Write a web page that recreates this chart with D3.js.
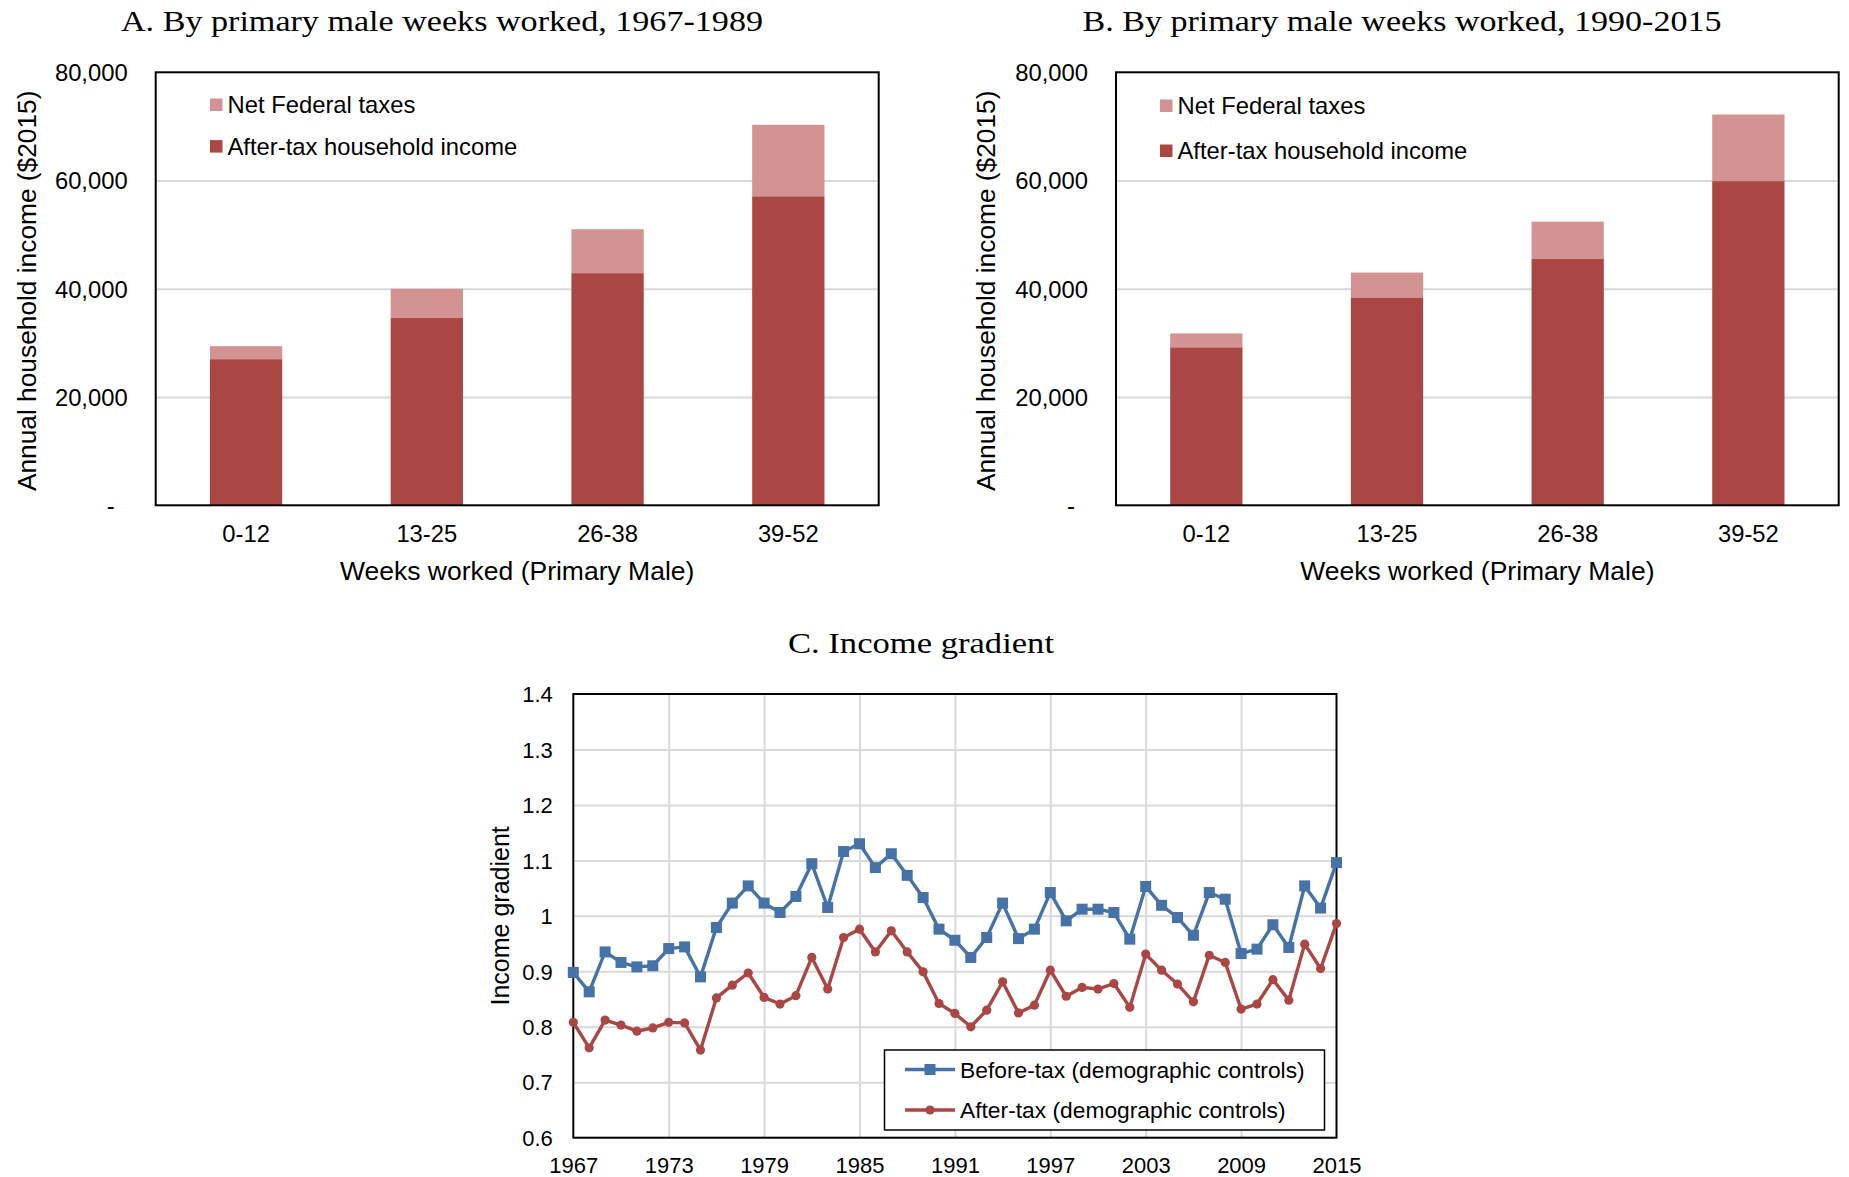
<!DOCTYPE html>
<html>
<head>
<meta charset="utf-8">
<script src="https://cdn.jsdelivr.net/npm/d3@7/dist/d3.min.js"></script>
<style>
  html, body { margin: 0; padding: 0; background: #fff; }
  svg { display: block; }
  .sans { font-family: "Liberation Sans", Arial, sans-serif; fill: #000; }
  .serif { font-family: "Liberation Serif", "Times New Roman", serif; fill: #000; }
</style>
</head>
<body>
<svg id="chart" width="1849" height="1177"></svg>
<script>
// ---------- DATA ----------
const weekCategories = ["0-12", "13-25", "26-38", "39-52"];
const afterTaxA = [27000, 34600, 42900, 57100];
const taxesA    = [2400, 5400, 8100, 13200];
const afterTaxB = [29200, 38300, 45500, 59900];
const taxesB    = [2550, 4700, 6900, 12300];
const incomeTicks = [0, 20000, 40000, 60000, 80000];
const barSeriesNames = ["Net Federal taxes", "After-tax household income"];

const years = [1967,1968,1969,1970,1971,1972,1973,1974,1975,1976,
               1977,1978,1979,1980,1981,1982,1983,1984,1985,1986,
               1987,1988,1989,1990,1991,1992,1993,1994,1995,1996,
               1997,1998,1999,2000,2001,2002,2003,2004,2005,2006,
               2007,2008,2009,2010,2011,2012,2013,2014,2015];
const beforeTaxGradient = [0.898,0.863,0.935,0.916,0.908,0.910,0.941,0.944,0.890,0.979,
                           1.023,1.054,1.023,1.006,1.035,1.094,1.015,1.116,1.130,1.087,
                           1.112,1.073,1.033,0.976,0.956,0.925,0.961,1.023,0.959,0.976,
                           1.042,0.991,1.012,1.012,1.006,0.958,1.053,1.019,0.997,0.965,
                           1.042,1.030,0.932,0.940,0.984,0.943,1.054,1.014,1.096];
const afterTaxGradient  = [0.808,0.762,0.812,0.803,0.792,0.798,0.808,0.807,0.758,0.852,
                           0.875,0.897,0.853,0.841,0.856,0.925,0.868,0.961,0.976,0.935,
                           0.973,0.935,0.899,0.842,0.824,0.800,0.830,0.881,0.825,0.839,
                           0.902,0.855,0.871,0.868,0.878,0.835,0.931,0.902,0.877,0.845,
                           0.929,0.916,0.832,0.841,0.885,0.848,0.949,0.905,0.986];
const yearTicks = [1967, 1973, 1979, 1985, 1991, 1997, 2003, 2009, 2015];
const gradientTicks = [0.6, 0.7, 0.8, 0.9, 1.0, 1.1, 1.2, 1.3, 1.4];
const lineSeriesNames = ["Before-tax (demographic controls)", "After-tax (demographic controls)"];

// ---------- STYLE ----------
const darkRed = "#AA4643";
const lightRed = "#D39392";
const blue = "#4572A7";
const gridColor = "#D9D9D9";

const svg = d3.select("#chart");

// ---------- BAR PANELS ----------
function barPanel(cfg) {
  const g = svg.append("g");
  const y = d3.scaleLinear().domain([0, 80000]).range([cfg.bottom, cfg.top]);
  const x = d3.scaleBand().domain(weekCategories).range([cfg.left, cfg.right])
              .paddingInner(0.6).paddingOuter(0.3);
  const w = cfg.right - cfg.left;

  g.append("g").attr("transform", `translate(${cfg.left},0)`)
    .call(d3.axisLeft(y).tickValues(incomeTicks.slice(1, -1)).tickSize(-w).tickFormat(""))
    .call(s => s.select(".domain").remove())
    .call(s => s.selectAll("line").attr("stroke", gridColor).attr("stroke-width", 2));

  const rows = weekCategories.map((c, i) => ({c, after: cfg.after[i], tax: cfg.tax[i]}));
  g.selectAll(".after").data(rows).join("rect")
    .attr("x", d => x(d.c)).attr("width", x.bandwidth())
    .attr("y", d => y(d.after)).attr("height", d => y(0) - y(d.after))
    .attr("fill", darkRed);
  g.selectAll(".tax").data(rows).join("rect")
    .attr("x", d => x(d.c)).attr("width", x.bandwidth())
    .attr("y", d => y(d.after + d.tax)).attr("height", d => y(d.after) - y(d.after + d.tax))
    .attr("fill", lightRed);

  g.append("rect").attr("x", cfg.left).attr("y", cfg.top)
    .attr("width", w).attr("height", cfg.bottom - cfg.top)
    .attr("fill", "none").attr("stroke", "#000").attr("stroke-width", 2);

  const ya = g.append("g").attr("transform", `translate(${cfg.left},0)`)
    .call(d3.axisLeft(y).tickValues(incomeTicks).tickSize(0).tickPadding(28)
      .tickFormat(d => d === 0 ? "-" : d3.format(",")(d)));
  ya.select(".domain").remove();
  ya.selectAll("text").attr("class", "sans").attr("font-size", 23.8).attr("dy", "0.35em")
    .filter(d => d === 0).attr("dx", -13);

  const xa = g.append("g").attr("transform", `translate(0,${cfg.bottom})`)
    .call(d3.axisBottom(x).tickSize(0).tickPadding(20));
  xa.select(".domain").remove();
  xa.selectAll("text").attr("class", "sans").attr("font-size", 23.8);

  g.append("text").attr("class", "sans").attr("font-size", 26.3)
    .attr("text-anchor", "middle").attr("dominant-baseline", "central")
    .attr("transform", `translate(${cfg.ytitleX},${(cfg.top + cfg.bottom) / 2 + 2}) rotate(-90)`)
    .text("Annual household income ($2015)");
  g.append("text").attr("class", "sans").attr("font-size", 26.5)
    .attr("text-anchor", "middle").attr("dominant-baseline", "central")
    .attr("x", (cfg.left + cfg.right) / 2).attr("y", 571)
    .text("Weeks worked (Primary Male)");

  g.append("text").attr("class", "serif").attr("font-size", 29)
    .attr("text-anchor", "middle").attr("dominant-baseline", "central")
    .attr("x", cfg.titleX).attr("y", 21)
    .attr("textLength", cfg.titleLen).attr("lengthAdjust", "spacingAndGlyphs")
    .text(cfg.title);

  const legColors = [lightRed, darkRed];
  barSeriesNames.forEach((name, i) => {
    const cy = cfg.legY[i];
    g.append("rect").attr("x", cfg.legX).attr("y", cy - 6.2).attr("width", 12.5).attr("height", 12.5)
      .attr("fill", legColors[i]);
    g.append("text").attr("class", "sans").attr("font-size", 23.8)
      .attr("dominant-baseline", "central")
      .attr("x", cfg.legX + 17.5).attr("y", cy).text(name);
  });
}

barPanel({
  left: 155.7, right: 878.7, top: 72.3, bottom: 505.3,
  after: afterTaxA, tax: taxesA, ytitleX: 27,
  title: "A. By primary male weeks worked, 1967-1989", titleX: 442, titleLen: 642,
  legX: 210, legY: [104.7, 146.3]
});
barPanel({
  left: 1116, right: 1838.7, top: 72.3, bottom: 505.3,
  after: afterTaxB, tax: taxesB, ytitleX: 986,
  title: "B. By primary male weeks worked, 1990-2015", titleX: 1402, titleLen: 639,
  legX: 1160, legY: [105.7, 150.7]
});

// ---------- LINE PANEL ----------
(function linePanel() {
  const L = 573.3, R = 1336.5, T = 694, B = 1137.7;
  const g = svg.append("g");
  const x = d3.scaleLinear().domain([1967, 2015]).range([L, R]);
  const y = d3.scaleLinear().domain([0.6, 1.4]).range([B, T]);

  g.append("g").attr("transform", `translate(${L},0)`)
    .call(d3.axisLeft(y).tickValues(gradientTicks.slice(1, -1)).tickSize(-(R - L)).tickFormat(""))
    .call(s => s.select(".domain").remove())
    .call(s => s.selectAll("line").attr("stroke", gridColor).attr("stroke-width", 2));
  g.append("g").attr("transform", `translate(0,${B})`)
    .call(d3.axisBottom(x).tickValues(yearTicks.slice(1, -1)).tickSize(-(B - T)).tickFormat(""))
    .call(s => s.select(".domain").remove())
    .call(s => s.selectAll("line").attr("stroke", gridColor).attr("stroke-width", 2));

  g.append("rect").attr("x", L).attr("y", T).attr("width", R - L).attr("height", B - T)
    .attr("fill", "none").attr("stroke", "#000").attr("stroke-width", 2);

  const ya = g.append("g").attr("transform", `translate(${L},0)`)
    .call(d3.axisLeft(y).tickValues(gradientTicks).tickSize(0).tickPadding(20.5)
      .tickFormat(d => String(+d.toFixed(1))));
  ya.select(".domain").remove();
  ya.selectAll("text").attr("class", "sans").attr("font-size", 22).attr("dy", "0.35em");

  const xa = g.append("g").attr("transform", `translate(0,${B})`)
    .call(d3.axisBottom(x).tickValues(yearTicks).tickSize(0).tickPadding(19.5).tickFormat(d3.format("d")));
  xa.select(".domain").remove();
  xa.selectAll("text").attr("class", "sans").attr("font-size", 22);

  g.append("text").attr("class", "sans").attr("font-size", 25)
    .attr("text-anchor", "middle").attr("dominant-baseline", "central")
    .attr("transform", `translate(500,${(T + B) / 2}) rotate(-90)`)
    .text("Income gradient");

  g.append("text").attr("class", "serif").attr("font-size", 29)
    .attr("text-anchor", "middle").attr("dominant-baseline", "central")
    .attr("x", 921).attr("y", 643)
    .attr("textLength", 266).attr("lengthAdjust", "spacingAndGlyphs")
    .text("C. Income gradient");

  const line = d3.line().x(d => x(d[0])).y(d => y(d[1]));
  const blueData = years.map((yr, i) => [yr, beforeTaxGradient[i]]);
  const redData = years.map((yr, i) => [yr, afterTaxGradient[i]]);

  g.append("path").datum(blueData).attr("d", line).attr("fill", "none")
    .attr("stroke", blue).attr("stroke-width", 3.4).attr("stroke-linejoin", "round");
  g.selectAll(".sq").data(blueData).join("rect")
    .attr("x", d => x(d[0]) - 5.5).attr("y", d => y(d[1]) - 5.5)
    .attr("width", 11).attr("height", 11).attr("fill", blue);

  g.append("path").datum(redData).attr("d", line).attr("fill", "none")
    .attr("stroke", darkRed).attr("stroke-width", 3.4).attr("stroke-linejoin", "round");
  g.selectAll(".dot").data(redData).join("circle")
    .attr("cx", d => x(d[0])).attr("cy", d => y(d[1])).attr("r", 4.6).attr("fill", darkRed);

  g.append("rect").attr("x", 884.5).attr("y", 1050).attr("width", 440).attr("height", 80)
    .attr("fill", "#fff").attr("stroke", "#000").attr("stroke-width", 1.5);
  const rowsY = [1069.5, 1110];
  const cols = [blue, darkRed];
  lineSeriesNames.forEach((name, i) => {
    const cy = rowsY[i];
    g.append("line").attr("x1", 905).attr("x2", 955).attr("y1", cy).attr("y2", cy)
      .attr("stroke", cols[i]).attr("stroke-width", 3.4);
    if (i === 0) {
      g.append("rect").attr("x", 924.5).attr("y", cy - 5.5).attr("width", 11).attr("height", 11).attr("fill", blue);
    } else {
      g.append("circle").attr("cx", 930).attr("cy", cy).attr("r", 4.6).attr("fill", darkRed);
    }
    g.append("text").attr("class", "sans").attr("font-size", 22.8)
      .attr("dominant-baseline", "central").attr("x", 960).attr("y", cy).text(name);
  });
})();
</script>
</body>
</html>
